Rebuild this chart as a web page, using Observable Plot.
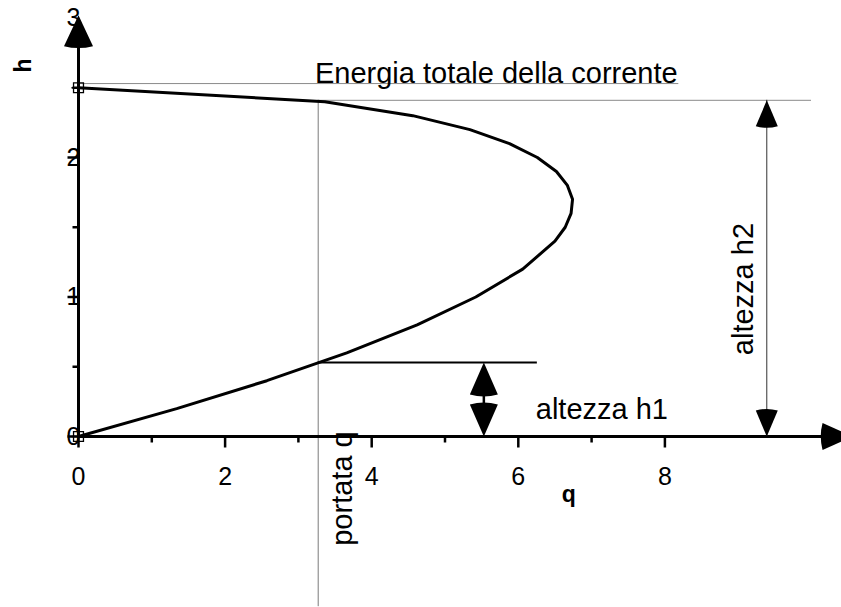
<!DOCTYPE html>
<html><head><meta charset="utf-8">
<script src="https://cdn.jsdelivr.net/npm/d3@7"></script>
<script src="https://cdn.jsdelivr.net/npm/@observablehq/plot@0.6"></script>
<style>html,body{margin:0;padding:0;background:#fff;overflow:hidden;}</style>
</head><body>
<div id="chart"></div>
<script>
// Curve: discharge q versus depth h
const hValues = [0, 0.2, 0.4, 0.6, 0.8, 1.0, 1.2, 1.4, 1.5, 1.6, 1.7, 1.8, 1.9, 2.0, 2.1, 2.2, 2.3, 2.4, 2.5];
const qValues = [0, 1.34, 2.57, 3.66, 4.62, 5.42, 6.06, 6.50, 6.64, 6.72, 6.74, 6.67, 6.52, 6.26, 5.88, 5.34, 4.56, 3.36, 0];

// Marked points of the series (the two ends)
const markerQ = [0, 0];
const markerH = [2.5, 0];

// Ticks
const xMajorTicks = [0, 2, 4, 6, 8];
const xMinorTicks = [1, 3, 5, 7];
const xTickLabels = ["0", "2", "4", "6", "8"];
const yMajorTicks = [0, 1, 2];
const yMinorTicks = [0.5, 1.5, 2.5];
const yTickValues = [0, 1, 2, 3];
const yTickLabels = ["0", "1", "2", "3"];

// Axis extents (data units)
const xAxisEnd = 10.3, xArrowTip = 10.56;
const yAxisEnd = 2.9, yArrowTip = 3.02;

// Annotation geometry (data units)
const energyH = 2.53, energyQEnd = 8.19;
const flowQ = 3.27, flowLineBottom = -1.22;
const h1 = 0.53, h1LineEnd = 6.26, h1ArrowQ = 5.53;
const h2 = 2.41, h2LineEnd = 10.0, h2ArrowQ = 9.39;

// Annotation texts
const annTexts = ["Energia totale della corrente", "altezza h1", "altezza h2", "portata q"];
const annQ = [5.70, 7.14, 9.07, 3.61];
const annH = [2.604, 0.19, 1.057, -0.373];
const annRotate = [0, 0, -90, -90];

const axisTitles = ["q", "h"];
const axisTitleQ = [6.69, -0.75];
const axisTitleH = [-0.42, 2.66];
const axisTitleRotate = [0, -90];

const curve = hValues.map((h, i) => ({h, q: qValues[i]}));
const markers = markerQ.map((q, i) => ({q, h: markerH[i]}));
const ann = annTexts.map((t, i) => ({t, q: annQ[i], h: annH[i], r: annRotate[i]}));
const titles = axisTitles.map((t, i) => ({t, q: axisTitleQ[i], h: axisTitleH[i], r: axisTitleRotate[i]}));
const xLabels = xMajorTicks.map((q, i) => ({t: xTickLabels[i], q, h: 0}));
const yLabels = yTickValues.map((h, i) => ({t: yTickLabels[i], q: 0, h}));

function head(w) {
  return {
    draw(ctx, l) {
      ctx.moveTo(0, -l);
      ctx.lineTo(-w / 2, 0);
      ctx.quadraticCurveTo(0, 0.12 * l, w / 2, 0);
      ctx.closePath();
    }
  };
}
const tickShape = {draw(ctx, l) { ctx.moveTo(0, 0); ctx.lineTo(0, -l); }};
const font = "'Liberation Sans', Arial, Helvetica, sans-serif";

function ticks(values, axis, size) {
  return Plot.vector(values, axis === "x"
    ? {x: (d) => d, y: () => 0, rotate: 180, length: size, anchor: "start", shape: tickShape, stroke: "black", strokeWidth: 2.5, strokeLinecap: "butt"}
    : {x: () => 0, y: (d) => d, rotate: -90, length: size, anchor: "start", shape: tickShape, stroke: "black", strokeWidth: 2.5, strokeLinecap: "butt"});
}

const chart = Plot.plot({
  width: 841,
  height: 607,
  marginLeft: 78,
  marginRight: 30,
  marginTop: 17.5,
  marginBottom: 171,
  x: {domain: [0, 10], axis: null},
  y: {domain: [0, 3], axis: null},
  style: {fontFamily: font, background: "white", color: "black", overflow: "visible"},
  marks: [
    // guide lines
    Plot.ruleY([energyH], {x1: 0, x2: energyQEnd, stroke: "#8a8a8a", strokeWidth: 1}),
    Plot.ruleY([h2], {x1: flowQ, x2: h2LineEnd, stroke: "#8a8a8a", strokeWidth: 1}),
    Plot.ruleX([flowQ], {y1: flowLineBottom, y2: h2, stroke: "#7a7a7a", strokeWidth: 1}),
    Plot.ruleY([h1], {x1: flowQ, x2: h1LineEnd, stroke: "black", strokeWidth: 2}),
    // ticks
    ticks(xMinorTicks, "x", 6),
    ticks(xMajorTicks, "x", 11),
    ticks(yMinorTicks, "y", 6),
    ticks(yMajorTicks, "y", 11),
    Plot.text(xLabels, {x: "q", y: "h", text: "t", dy: 40, fontSize: 25, fill: "black"}),
    Plot.text(yLabels, {x: "q", y: "h", text: "t", dx: 2, textAnchor: "end", fontSize: 25, fill: "black"}),
    // axis lines
    Plot.ruleX([0], {y1: 0, y2: yAxisEnd, stroke: "black", strokeWidth: 3}),
    Plot.ruleY([0], {x1: 0, x2: xAxisEnd, stroke: "black", strokeWidth: 3}),
    Plot.vector([{q: 0, h: yArrowTip}], {x: "q", y: "h", rotate: 0, length: 31, anchor: "end", shape: head(29), fill: "black", stroke: "none"}),
    Plot.vector([{q: xArrowTip, h: 0}], {x: "q", y: "h", rotate: 90, length: 30, anchor: "end", shape: head(27), fill: "black", stroke: "none"}),
    // h1 dimension arrow
    Plot.ruleX([h1ArrowQ], {y1: 0.18, y2: 0.36, stroke: "black", strokeWidth: 2.5}),
    Plot.vector([{q: h1ArrowQ, h: h1, r: 0}, {q: h1ArrowQ, h: 0, r: 180}], {x: "q", y: "h", rotate: "r", length: 32, anchor: "end", shape: head(28), fill: "black", stroke: "none"}),
    // h2 dimension arrow
    Plot.ruleX([h2ArrowQ], {y1: 0, y2: h2, stroke: "#333", strokeWidth: 1}),
    Plot.vector([{q: h2ArrowQ, h: h2, r: 0}, {q: h2ArrowQ, h: 0, r: 180}], {x: "q", y: "h", rotate: "r", length: 26, anchor: "end", shape: head(22), fill: "black", stroke: "none"}),
    // curve
    Plot.line(curve, {x: "q", y: "h", stroke: "black", strokeWidth: 3, curve: "linear"}),
    Plot.dot(markers, {x: "q", y: "h", symbol: "square", r: 5.6, stroke: "black", strokeWidth: 1.3, fill: "none"}),
    Plot.dot(markers, {x: "q", y: "h", symbol: "plus", r: 4.6, stroke: "black", strokeWidth: 1.3}),
    // annotation texts
    Plot.text(ann, {x: "q", y: "h", text: "t", rotate: "r", fontSize: 29, fill: "black"}),
    Plot.text(titles, {x: "q", y: "h", text: "t", rotate: "r", fontSize: 23, fontWeight: "bold", fill: "black"})
  ]
});
document.getElementById("chart").appendChild(chart);
</script>
</body></html>
